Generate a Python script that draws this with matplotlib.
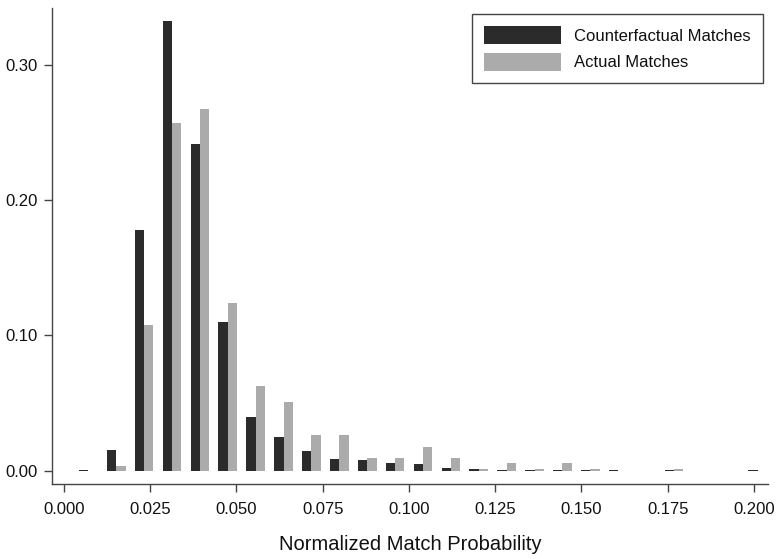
import numpy as np
import matplotlib
matplotlib.use("Agg")
import matplotlib.pyplot as plt

plt.rcParams['font.family'] = ['Liberation Sans', 'DejaVu Sans']

# Bin positions (left edge of each pair of bars)
bin_left = [0.00435 + 0.008085 * i for i in range(25)]

counterfactual = [0.001, 0.0158, 0.178, 0.332, 0.241, 0.1097, 0.040, 0.0251,
                  0.0148, 0.0086, 0.0079, 0.0062, 0.0052, 0.0020, 0.0013,
                  0.0008, 0.0010, 0.0010, 0.0004, 0.0006, 0.0003, 0.0004,
                  0.0, 0.0, 0.0006]
actual = [0.0, 0.0037, 0.1075, 0.257, 0.267, 0.124, 0.0627, 0.0507,
          0.0263, 0.0263, 0.0096, 0.0096, 0.0177, 0.0096, 0.0018,
          0.0059, 0.0018, 0.0059, 0.0018, 0.0, 0.0, 0.0018,
          0.0, 0.0, 0.0]

xticks = [0.000, 0.025, 0.050, 0.075, 0.100, 0.125, 0.150, 0.175, 0.200]
yticks = [0.00, 0.10, 0.20, 0.30]

W, H = 777, 559
fig = plt.figure(figsize=(W / 100, H / 100), dpi=100)
ax = fig.add_axes([52 / W, (H - 484) / H, (768 - 52) / W, (484 - 8) / H])

bw = 0.0027
left = np.array(bin_left)
ax.bar(left, counterfactual, width=bw, align='edge', color='#2b2b2b',
       label='Counterfactual Matches', linewidth=0)
ax.bar(left + bw, actual, width=bw, align='edge', color='#ababab',
       label='Actual Matches', linewidth=0)

ax.set_xlim(-0.00348, 0.2041)
ax.set_ylim(-0.0096, 0.3417)

ax.set_xticks(xticks)
ax.set_xticklabels([f"{v:.3f}" for v in xticks])
ax.set_yticks(yticks)
ax.set_yticklabels([f"{v:.2f}" for v in yticks])

for s in ['top', 'right']:
    ax.spines[s].set_visible(False)
for s in ['left', 'bottom']:
    ax.spines[s].set_color('#444444')
    ax.spines[s].set_linewidth(1.0)

ax.tick_params(axis='both', direction='out', length=6, width=1.0,
               color='#444444', labelsize=12, labelcolor='#111111', pad=4)
ax.tick_params(axis='x', pad=7)

ax.set_xlabel('Normalized Match Probability', fontsize=14.5, color='#111111')
ax.xaxis.set_label_coords(0.5, -(535 - 484) / 476)

leg = ax.legend(loc='upper right', bbox_to_anchor=(763 / W, 1 - 14 / H),
                bbox_transform=fig.transFigure, borderaxespad=0,
                fontsize=12, handlelength=4.67, handleheight=1.3,
                handletextpad=0.78, labelspacing=0.5, borderpad=0.72,
                fancybox=False, framealpha=1, edgecolor='#444444')
leg.get_frame().set_linewidth(1.0)
for t in leg.get_texts():
    t.set_color('#111111')

fig.savefig('out.png', dpi=100)
